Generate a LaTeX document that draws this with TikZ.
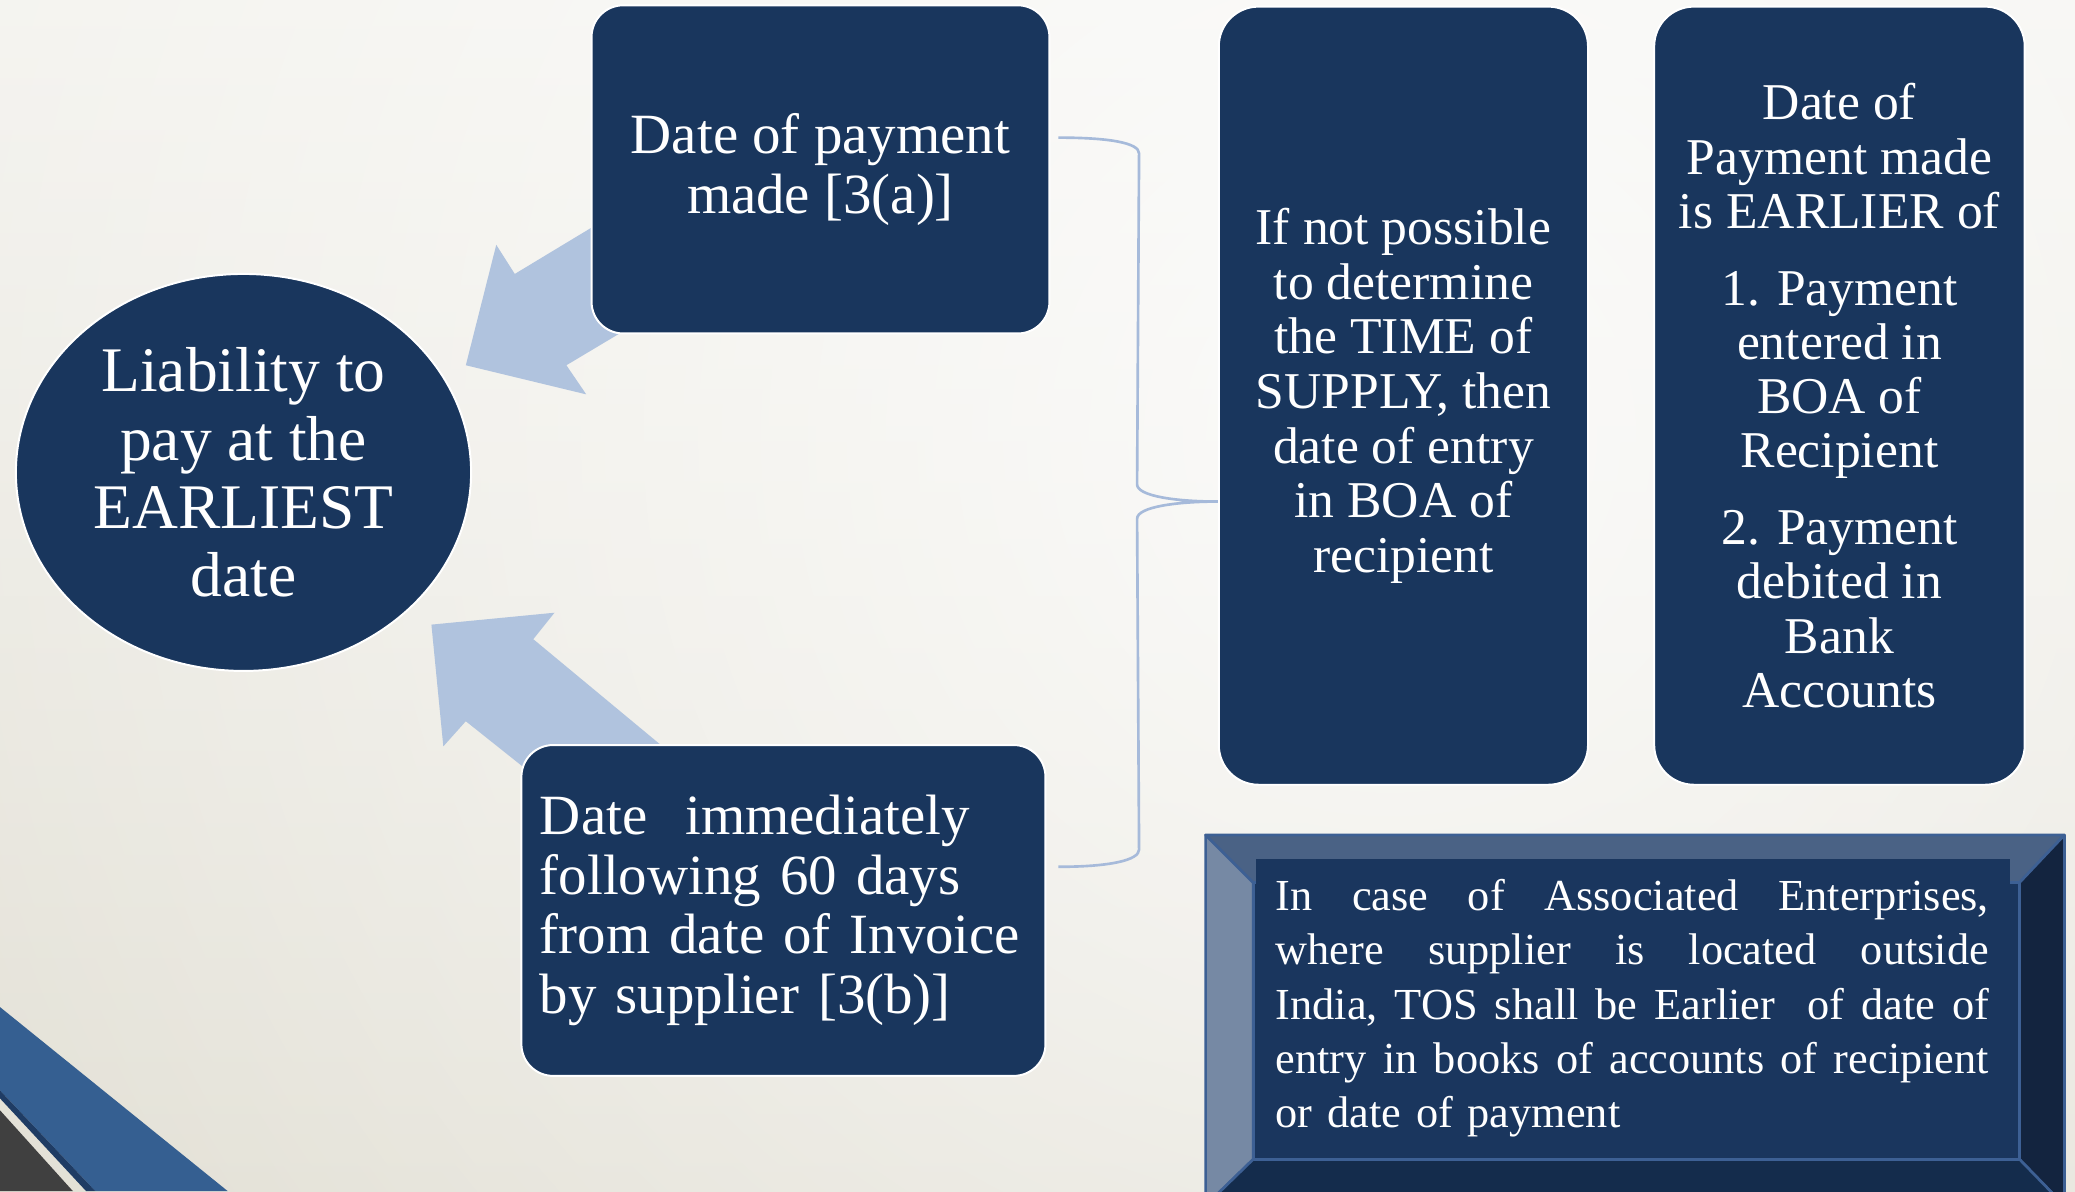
\documentclass[tikz,border=0pt]{standalone}
\usepackage{fontspec}
\setmainfont{Liberation Serif}
\usetikzlibrary{calc,shapes.geometric,fadings}
\definecolor{navy}{RGB}{25,54,93}
\definecolor{pale}{RGB}{176,195,222}
\definecolor{braceblue}{RGB}{166,186,218}
\definecolor{bgtop}{RGB}{242,241,236}
\definecolor{bgbottom}{RGB}{221,218,205}
\definecolor{stripe}{RGB}{53,95,145}
\definecolor{stripedark}{RGB}{31,60,100}
\definecolor{cornergray}{RGB}{64,64,64}
\definecolor{bevtop}{RGB}{74,98,133}
\definecolor{bevleft}{RGB}{118,137,164}
\definecolor{bevright}{RGB}{19,36,63}
\definecolor{bevbottom}{RGB}{20,44,76}
\definecolor{bevline}{RGB}{61,96,148}
\definecolor{bevface}{RGB}{26,54,94}
\tikzfading[name=glow, inner color=transparent!0, outer color=transparent!100]
\newcommand{\fsz}[2]{\fontsize{#1}{#2}\selectfont}
\newcommand{\fullline}[1]{\leavevmode\hbox to 539pt{#1}}% justified line of the note
\tikzset{%
  box/.style={draw=white, line width=1.5pt, fill=navy, text=white,
    rounded corners=24pt, inner sep=0pt},
  tallbox/.style={box, rounded corners=30pt, minimum height=588pt,
    align=center, font=\fsz{39}{41.3}},
  oval/.style={ellipse, draw=white, line width=1.5pt, fill=navy,
    text=white, inner sep=0pt},
  block arrow/.style={fill=pale},
  brace line/.style={draw=braceblue, line width=2pt},
  bevel face/.style={draw=bevline, line width=2pt, line join=round},
}
\newcommand{\ArrowData}{%
  % upper arrow: out of (pay) towards (liab)
  \coordinate (ua tip) at (352,276);
  \coordinate (ua barb1) at (375,185);
  \coordinate (ua neck1) at (389,207);
  \coordinate (ua end1) at (500,140);
  \coordinate (ua end2) at (500,233);
  \coordinate (ua neck2) at (428,276);
  \coordinate (ua barb2) at (443,298);
  % lower arrow: out of (later) towards (liab)
  \coordinate (la tip) at (326,472);
  \coordinate (la barb1) at (419,463);
  \coordinate (la neck1) at (403,483);
  \coordinate (la end1) at (544,600);
  \coordinate (la end2) at (421,600);
  \coordinate (la neck2) at (352,545);
  \coordinate (la barb2) at (335,564);
}
\newcommand{\BevelData}{%
  \coordinate (O1) at (911,631);% outer corners
  \coordinate (O2) at (1560,631);
  \coordinate (O3) at (1560,911);
  \coordinate (O4) at (911,911);
  \coordinate (I1) at (947,667);% inner corners
  \coordinate (I2) at (1526,667);
  \coordinate (I3) at (1526,876);
  \coordinate (I4) at (947,876);
}
\begin{document}
\begin{tikzpicture}[x=1pt,y=-1pt]
  \useasboundingbox (0,0) rectangle (1568,900);
  % background
  \fill[top color=bgtop, bottom color=bgbottom] (0,0) rectangle (1568,900);
  \fill[white, path fading=glow, fill opacity=0.8] (1050,330) circle[radius=1500];
  \fill[stripe] (0,761) -- (172,900) -- (72,900) -- (0,824) -- cycle;
  \fill[stripedark] (0,824) -- (72,900) -- (65,900) -- (0,830) -- cycle;
  \fill[cornergray] (0,839) -- (55,900) -- (0,900) -- cycle;
  % block arrows
  \ArrowData% makes arrow corners available
  \fill[block arrow] (ua tip) -- (ua barb1) -- (ua neck1) -- (ua end1)
    -- (ua end2) -- (ua neck2) -- (ua barb2) -- cycle;
  \fill[block arrow] (la tip) -- (la barb1) -- (la neck1) -- (la end1)
    -- (la end2) -- (la neck2) -- (la barb2) -- cycle;
  % nodes
  \node[oval, minimum width=344pt, minimum height=300pt, align=center,
    font=\fsz{48}{51.5}] (liab) at (184,357)
    {Liability to\\pay at the\\EARLIEST\\date};
  \node[box, minimum width=346pt, minimum height=248pt, align=center,
    font=\fsz{43}{45}] (pay) at (620,128) {Date of payment\\made [3(a)]};
  \node[box, minimum width=396pt, minimum height=250pt, text width=368pt,
    inner xsep=14pt, align=left, font=\fsz{43}{45}] (later) at (592,688)
    {Date~ immediately\\following 60 days\\from date of Invoice\\by supplier [3(b)]};
  \node[tallbox, minimum width=279pt] (nodet) at (1060.5,299)
    {If not possible\\to determine\\the TIME of\\SUPPLY, then\\date of entry\\in BOA of\\recipient};
  \node[tallbox, minimum width=280pt, font=\fsz{39}{41}] (earlier) at (1390,299)
    {Date of\\Payment made\\is EARLIER of\\[17pt]1. Payment\\entered in\\BOA of\\Recipient\\[17pt]2. Payment\\debited in\\Bank\\Accounts};
  % brace from the two dates to (nodet)
  \coordinate (b1) at ($(pay.east)+(6,-24)$);
  \coordinate (b2) at ($(later.east)+(9,-33)$);
  \coordinate (tip) at ($(nodet.west)+(0,80)$);
  \draw[brace line] (b1) .. controls +(39,0) and +(0,-8) .. ($(b1)+(61,12)$)
    -- ($(tip)+(-61,-13)$) .. controls +(0,9) and +(-31,0) .. (tip)
    .. controls +(-31,0) and +(0,-9) .. ($(tip)+(-61,13)$)
    -- ($(b2)+(61,-13)$) .. controls +(0,8) and +(39,0) .. (b2);
  % bevelled note
  \BevelData% makes bevel corners available
  \filldraw[bevel face, fill=bevtop] (O1) -- (O2) -- (I2) -- (I1) -- cycle;
  \filldraw[bevel face, fill=bevleft] (O1) -- (I1) -- (I4) -- (O4) -- cycle;
  \filldraw[bevel face, fill=bevright] (O2) -- (O3) -- (I3) -- (I2) -- cycle;
  \filldraw[bevel face, fill=bevbottom] (I4) -- (I3) -- (O3) -- (O4) -- cycle;
  \filldraw[bevel face, fill=bevface] (I1) -- (I2) -- (I3) -- (I4) -- cycle;
  \node[fill=bevface, text=white, minimum width=570pt, minimum height=226pt,
    text width=540pt, inner xsep=15pt, align=left, font=\fsz{33.5}{41}]
    (aenote) at (1234,762)
    {\fullline{In\hfill case\hfill of\hfill Associated\hfill Enterprises,}\\
     \fullline{where\hfill supplier\hfill is\hfill located\hfill outside}\\
     \fullline{India,\hfill TOS\hfill shall\hfill be\hfill Earlier\ \hfill of\hfill date\hfill of}\\
     \fullline{entry\hfill in\hfill books\hfill of\hfill accounts\hfill of\hfill recipient}\\
     or date of payment};
\end{tikzpicture}
\end{document}
